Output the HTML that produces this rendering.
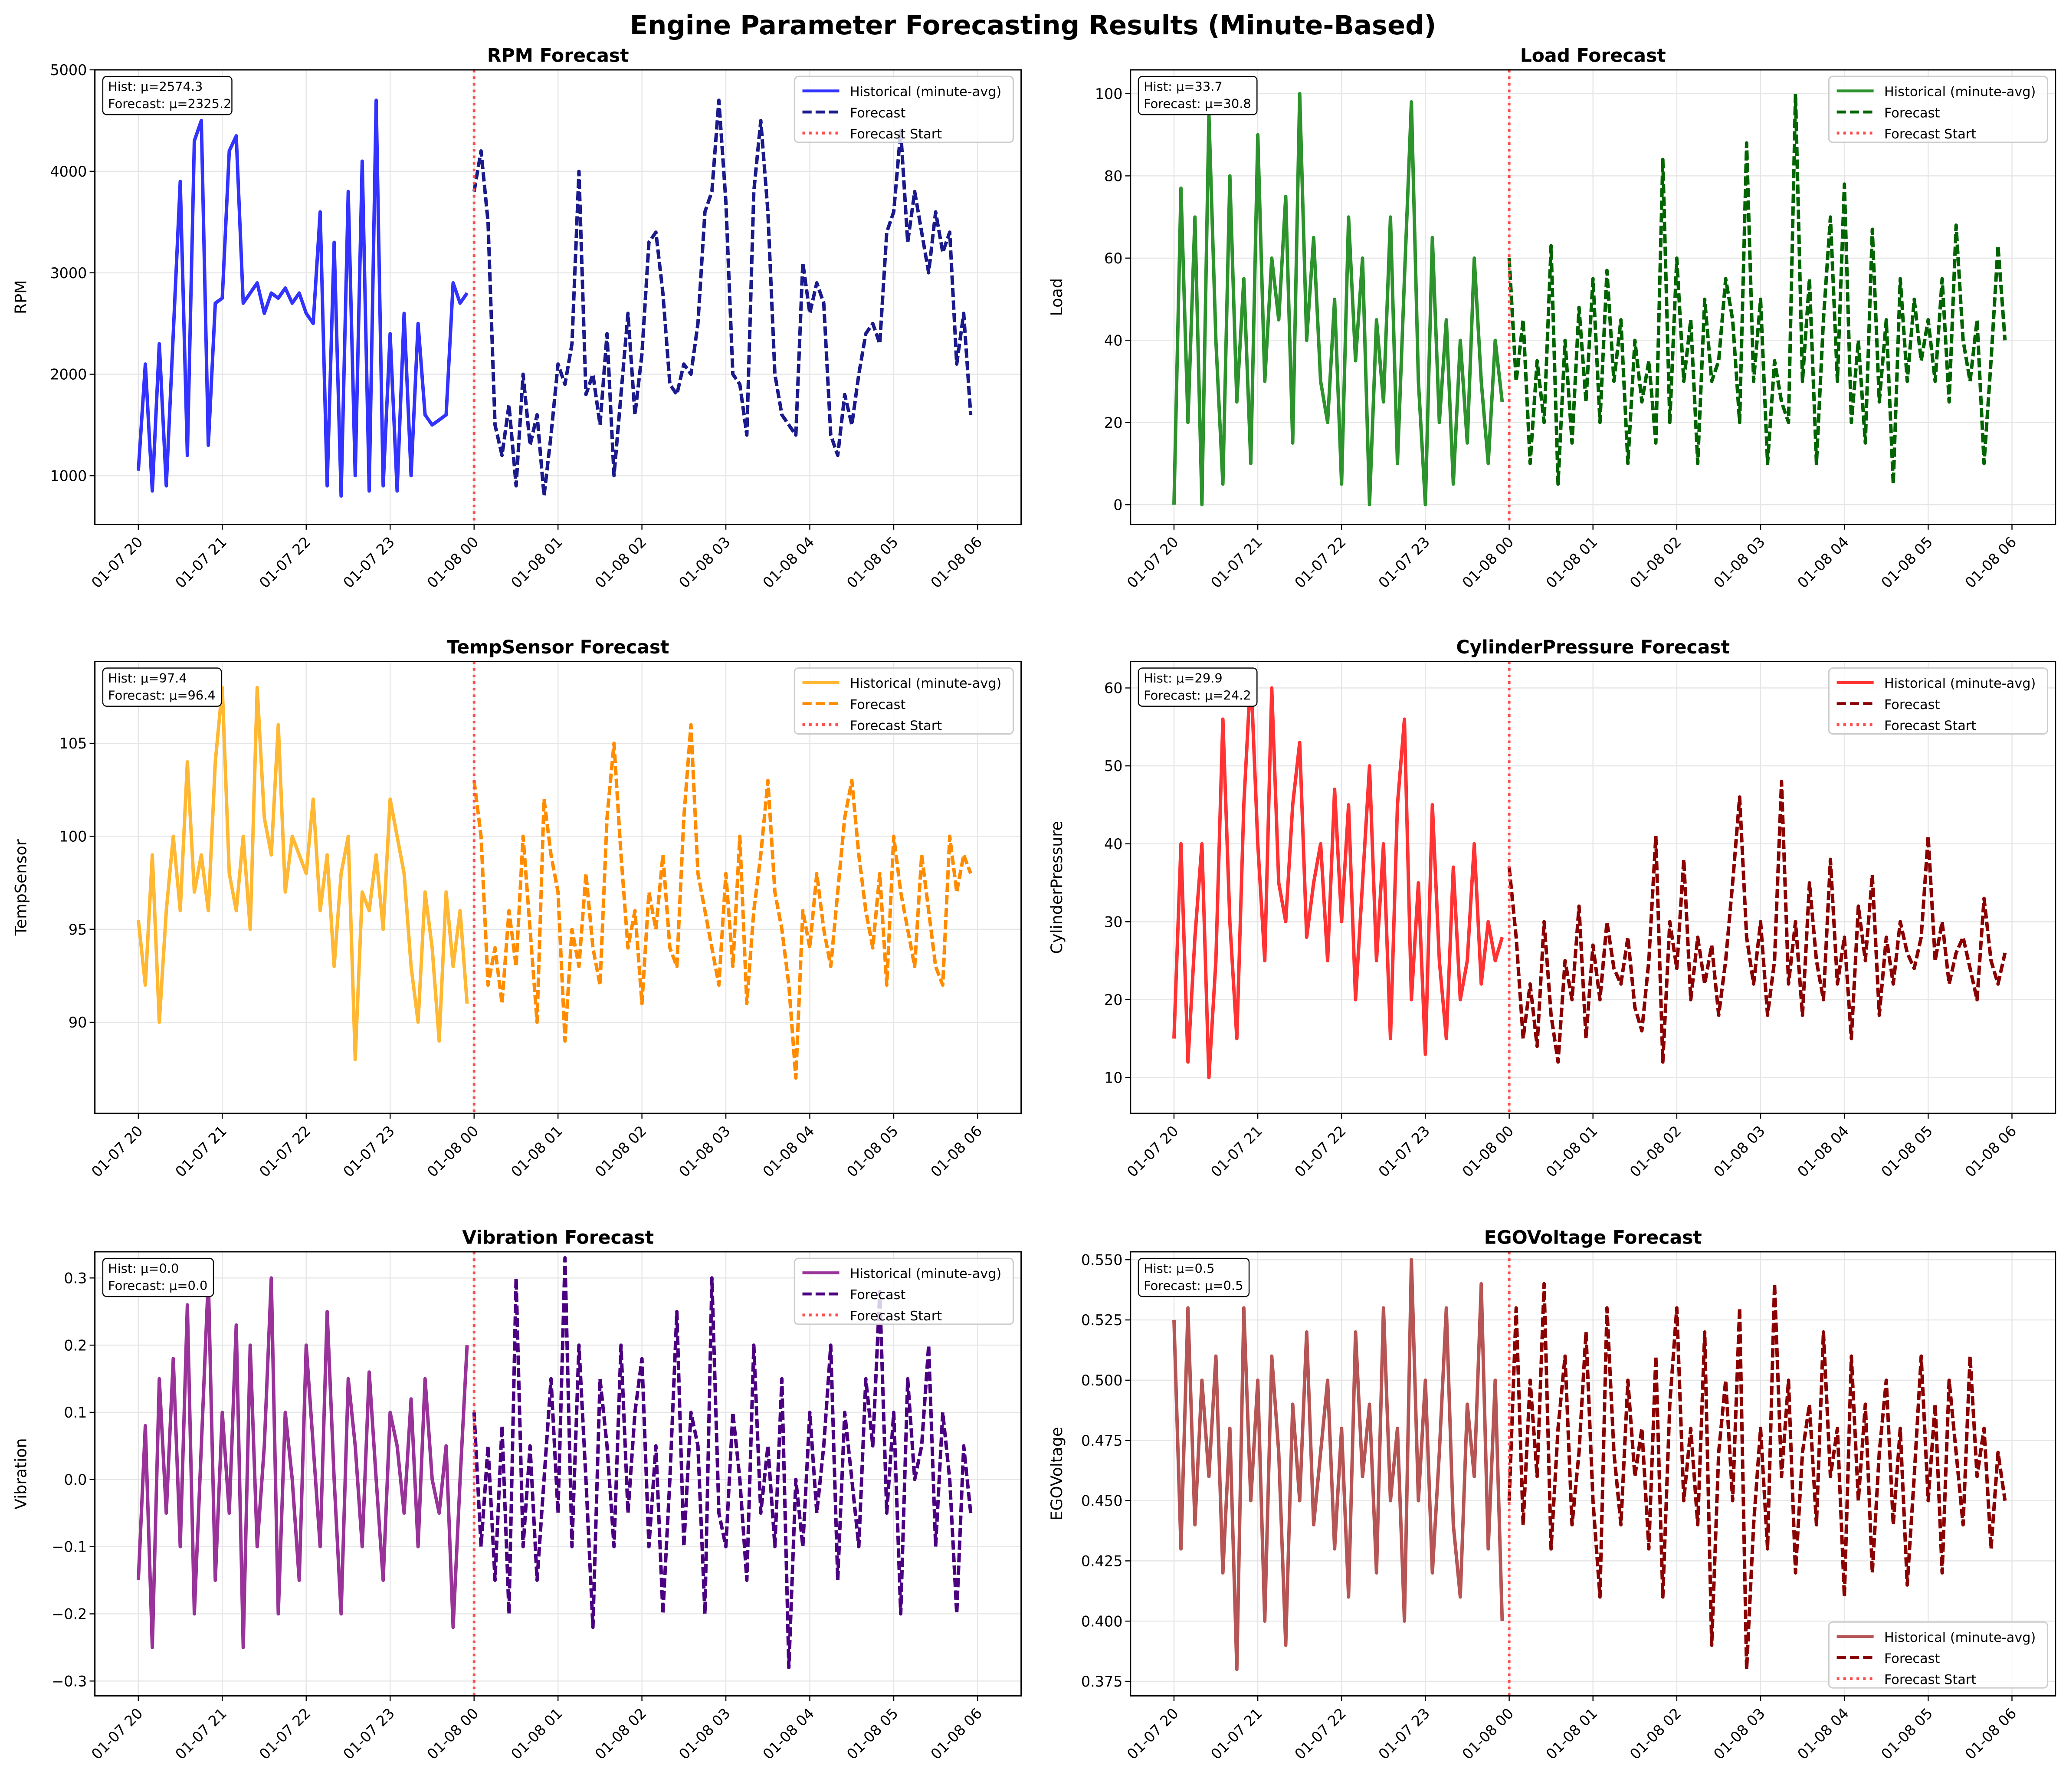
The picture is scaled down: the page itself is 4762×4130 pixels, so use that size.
<!DOCTYPE html>
<html><head><meta charset="utf-8"><style>
html,body{margin:0;padding:0;background:#fff}
svg{display:block;font-family:"DejaVu Sans","Liberation Sans",sans-serif}
</style></head><body>
<svg id="fig" width="4762" height="4130" viewBox="0 0 1568 1360" preserveAspectRatio="none" xmlns="http://www.w3.org/2000/svg">
<rect width="1568" height="1360" fill="#fff"/>
<text x="784" y="26" text-anchor="middle" font-size="20" font-weight="bold">Engine Parameter Forecasting Results (Minute-Based)</text>
</svg>
<script>
const rpmHist=[1050,2100,850,2300,900,2400,3900,1200,4300,4500,1300,2700,2750,4200,4350,2700,2800,2900,2600,2800,2750,2850,2700,2800,2600,2500,3600,900,3300,800,3800,1000,4100,850,4700,900,2400,850,2600,1000,2500,1600,1500,1550,1600,2900,2700,2800];
const rpmFc=[3800,4200,3500,1500,1200,1700,900,2000,1300,1600,800,1400,2100,1900,2300,4000,1800,2000,1500,2400,1000,1800,2600,1600,2200,3300,3400,2800,1900,1800,2100,2000,2500,3600,3800,4700,3700,2000,1900,1400,3800,4500,3600,2000,1600,1500,1400,3100,2600,2900,2700,1400,1200,1800,1500,2000,2400,2500,2300,3400,3600,4400,3300,3800,3400,3000,3600,3200,3400,2100,2600,1600];
const loadHist=[0,77,20,70,0,95,40,5,80,25,55,10,90,30,60,45,75,15,100,40,65,30,20,50,5,70,35,60,0,45,25,70,10,55,98,30,0,65,20,45,5,40,15,60,30,10,40,25];
const loadFc=[60,30,45,10,35,20,63,5,40,15,48,25,55,20,57,30,45,10,40,25,35,15,84,20,60,30,45,10,50,30,35,55,45,20,88,30,50,10,35,25,20,100,30,55,10,45,70,30,78,20,40,15,67,25,45,5,55,30,50,35,45,30,55,25,68,40,30,45,10,35,63,40];
const tempHist=[95.5,92,99,90,96,100,96,104,97,99,96,104,108,98,96,100,95,108,101,99,106,97,100,99,98,102,96,99,93,98,100,88,97,96,99,95,102,100,98,93,90,97,94,89,97,93,96,91];
const tempFc=[103,100,92,94,91,96,93,100,95,90,102,99,97,89,95,93,98,94,92,101,105,99,94,96,91,97,95,99,94,93,101,106,98,96,94,92,98,93,100,91,96,99,103,97,95,92,87,96,94,98,95,93,97,101,103,99,96,94,98,92,100,97,95,93,99,96,93,92,100,97,99,98];
const cylHist=[15,40,12,28,40,10,25,56,30,15,45,62,40,25,60,35,30,45,53,28,35,40,25,47,30,45,20,35,50,25,40,15,45,56,20,35,13,45,25,15,37,20,25,40,22,30,25,28];
const cylFc=[37,28,15,22,14,30,18,12,25,20,32,15,27,20,30,24,22,28,19,16,25,41,12,30,24,38,20,28,22,27,18,25,35,46,28,22,30,18,25,48,22,30,18,35,25,20,38,22,28,15,32,25,36,18,28,22,30,26,24,28,41,25,30,22,26,28,24,20,33,25,22,26];
const vibHist=[-0.15,0.08,-0.25,0.15,-0.05,0.18,-0.1,0.26,-0.2,0.05,0.3,-0.15,0.1,-0.05,0.23,-0.25,0.2,-0.1,0.05,0.3,-0.2,0.1,0.0,-0.15,0.2,0.05,-0.1,0.25,0.0,-0.2,0.15,0.05,-0.1,0.16,0.0,-0.15,0.1,0.05,-0.05,0.12,-0.1,0.15,0.0,-0.05,0.05,-0.22,0.0,0.2];
const vibFc=[0.1,-0.1,0.05,-0.15,0.08,-0.2,0.3,-0.1,0.05,-0.15,0.0,0.15,-0.05,0.33,-0.1,0.2,0.0,-0.22,0.15,0.05,-0.1,0.2,-0.05,0.1,0.18,-0.1,0.05,-0.2,0.0,0.25,-0.1,0.1,0.05,-0.2,0.3,-0.05,-0.1,0.1,0.0,-0.15,0.2,-0.05,0.05,-0.1,0.15,-0.28,0.0,-0.1,0.1,-0.05,0.05,0.2,-0.15,0.1,0.0,-0.1,0.15,0.05,0.28,-0.05,0.1,-0.2,0.15,0.0,0.05,0.2,-0.1,0.1,0.0,-0.2,0.05,-0.05];
const egoHist=[0.525,0.43,0.53,0.44,0.50,0.46,0.51,0.42,0.48,0.38,0.53,0.45,0.50,0.40,0.51,0.47,0.39,0.49,0.45,0.52,0.44,0.47,0.50,0.43,0.48,0.41,0.52,0.46,0.49,0.42,0.53,0.45,0.48,0.40,0.55,0.45,0.50,0.42,0.47,0.53,0.44,0.41,0.49,0.46,0.54,0.43,0.50,0.40];
const egoFc=[0.45,0.53,0.44,0.50,0.46,0.54,0.43,0.48,0.51,0.44,0.47,0.52,0.45,0.41,0.53,0.47,0.44,0.50,0.46,0.48,0.43,0.51,0.41,0.49,0.53,0.45,0.48,0.44,0.52,0.39,0.47,0.50,0.45,0.53,0.38,0.44,0.48,0.43,0.54,0.46,0.50,0.42,0.47,0.49,0.44,0.52,0.46,0.48,0.41,0.51,0.45,0.49,0.42,0.47,0.50,0.44,0.48,0.415,0.46,0.51,0.45,0.49,0.42,0.50,0.47,0.44,0.51,0.46,0.48,0.43,0.47,0.45];
const xTickLabels=["01-07 20","01-07 21","01-07 22","01-07 23","01-08 00","01-08 01","01-08 02","01-08 03","01-08 04","01-08 05","01-08 06"];
const rpmTicks=[1000,2000,3000,4000,5000];
const loadTicks=[0,20,40,60,80,100];
const tempTicks=[90,95,100,105];
const cylTicks=[10,20,30,40,50,60];
const vibTicks=[-0.3,-0.2,-0.1,0.0,0.1,0.2,0.3];
const egoTicks=[0.375,0.4,0.425,0.45,0.475,0.5,0.525,0.55];
const statsHist=["2574.3","33.7","97.4","29.9","0.0","0.5"];
const statsFc=["2325.2","30.8","96.4","24.2","0.0","0.5"];

const NS="http://www.w3.org/2000/svg";
const svg=document.getElementById('fig');
function mk(tag,attrs,parent){const e=document.createElementNS(NS,tag);for(const k in attrs)e.setAttribute(k,attrs[k]);(parent||svg).appendChild(e);return e;}

const panels=[
 {name:'rpm',title:'RPM Forecast',yl:'RPM',hist:rpmHist,fc:rpmFc,ticks:rpmTicks,ymin:520,ymax:5000,hc:'#3333ff',fcc:'#1a1a8c',dec:0,legBottom:false,sw:98},
 {name:'load',title:'Load Forecast',yl:'Load',hist:loadHist,fc:loadFc,ticks:loadTicks,ymin:-4.8,ymax:105.8,hc:'#2d932d',fcc:'#006400',dec:0,legBottom:false,sw:90},
 {name:'temp',title:'TempSensor Forecast',yl:'TempSensor',hist:tempHist,fc:tempFc,ticks:tempTicks,ymin:85.1,ymax:109.4,hc:'#ffb833',fcc:'#ff8c00',dec:0,legBottom:false,sw:90},
 {name:'cyl',title:'CylinderPressure Forecast',yl:'CylinderPressure',hist:cylHist,fc:cylFc,ticks:cylTicks,ymin:5.4,ymax:63.4,hc:'#ff3333',fcc:'#8b0000',dec:0,legBottom:false,sw:90},
 {name:'vib',title:'Vibration Forecast',yl:'Vibration',hist:vibHist,fc:vibFc,ticks:vibTicks,ymin:-0.322,ymax:0.339,hc:'#993399',fcc:'#4b0082',dec:1,legBottom:false,sw:84},
 {name:'ego',title:'EGOVoltage Forecast',yl:'EGOVoltage',hist:egoHist,fc:egoFc,ticks:egoTicks,ymin:0.369,ymax:0.5533,hc:'#b75555',fcc:'#8b0000',dec:3,legBottom:true,sw:84}
];
const cols=[[72,775],[858,1560]];
const rows=[[53,398],[502,845],[950,1287]];

panels.forEach((p,idx)=>{
 const [L,R]=cols[idx%2];const [T,B]=rows[Math.floor(idx/2)];
 const g=mk('g',{});
 
 
 const x0=L+33, pxh=(R-L-66)/10;
 const xs=h=>x0+h*pxh;
 const ys=v=>B-(v-p.ymin)/(p.ymax-p.ymin)*(B-T);
 mk('defs',{},g).innerHTML=`<clipPath id="c${idx}"><rect x="${L}" y="${T}" width="${R-L}" height="${B-T}"/></clipPath>`;
 xTickLabels.forEach((lab,i)=>{
  const x=xs(i);
  mk('line',{x1:x,x2:x,y1:T,y2:B,stroke:'#e6e6e6','stroke-width':0.8},g);
  mk('line',{x1:x,x2:x,y1:B,y2:B+4,stroke:'#000','stroke-width':0.8},g);
  const t=mk('text',{x:x+4,y:B+14,'font-size':11,'text-anchor':'end',transform:`rotate(-45 ${x+4} ${B+14})`},g);
  
  
  t.textContent=lab;
 });
 p.ticks.forEach(v=>{
  const y=ys(v);
  mk('line',{x1:L,x2:R,y1:y,y2:y,stroke:'#e6e6e6','stroke-width':0.8},g);
  mk('line',{x1:L-4,x2:L,y1:y,y2:y,stroke:'#000','stroke-width':0.8},g);
  const t=mk('text',{x:L-6,y:y+4,'font-size':11,'text-anchor':'end'},g);
  
  
  t.textContent=p.dec===1?(v<0?'\u2212':'')+Math.abs(v).toFixed(1):p.dec===3?v.toFixed(3):String(v);
 });
 const cg=mk('g',{'clip-path':`url(#c${idx})`},g);
 const hp=p.hist.map((v,i)=>`${i?'L':'M'}${xs(i*5/60).toFixed(1)},${ys(v).toFixed(1)}`).join('');
 const hl=mk('path',{d:hp,fill:'none',stroke:p.hc,'stroke-width':2.6,'stroke-linejoin':'round'},cg);
 
 
 const fp=p.fc.map((v,i)=>`${i?'L':'M'}${xs(4+i*5/60).toFixed(1)},${ys(v).toFixed(1)}`).join('');
 const fl=mk('path',{d:fp,fill:'none',stroke:p.fcc,'stroke-width':2.6,'stroke-dasharray':'7,2.5','stroke-linejoin':'round'},cg);
 
 
 const vl=mk('line',{x1:xs(4),x2:xs(4),y1:T,y2:B,stroke:'#ff4d4d','stroke-width':2,'stroke-dasharray':'2,3'},g);
 
 
 mk('rect',{x:L,y:T,width:R-L,height:B-T,fill:'none',stroke:'#000','stroke-width':1},g);
 const tt=mk('text',{x:(L+R)/2,y:T-6,'font-size':14,'font-weight':'bold','text-anchor':'middle'},g);
 
 
 tt.textContent=p.title;
 const yl=mk('text',{x:L-52,y:(T+B)/2,'font-size':12,'text-anchor':'middle',transform:`rotate(-90 ${L-52} ${(T+B)/2})`},g);
 
 
 yl.textContent=p.yl;
 const sb=mk('g',{},g);
 
 
 mk('rect',{x:L+6,y:T+5,width:p.sw,height:29,rx:3,fill:'#fff',stroke:'#000','stroke-width':0.8},sb);
 mk('text',{x:L+10,y:T+16,'font-size':9.5},sb).textContent='Hist: \u03bc='+statsHist[idx];
 mk('text',{x:L+10,y:T+29,'font-size':9.5},sb).textContent='Forecast: \u03bc='+statsFc[idx];
 const lg=mk('g',{},g);
 
 
 const lw=166,lh=50,lx=R-lw-6,ly=p.legBottom?B-lh-6:T+5;
 mk('rect',{x:lx,y:ly,width:lw,height:lh,rx:3,fill:'#fff','fill-opacity':0.8,stroke:'#ccc','stroke-width':1},lg);
 const entries=[['Historical (minute-avg)',p.hc,'none'],['Forecast',p.fcc,'7,3'],['Forecast Start','#ff4d4d','2,3']];
 entries.forEach((e,k)=>{
  const yy=ly+11+k*16;
  const le=mk('g',{},lg);
  
  
  mk('line',{x1:lx+6,x2:lx+34,y1:yy,y2:yy,stroke:e[1],'stroke-width':2.2,'stroke-dasharray':e[2]},le);
  mk('text',{x:lx+42,y:yy+4,'font-size':10},le).textContent=e[0];
 });
});
</script>
</body></html>
